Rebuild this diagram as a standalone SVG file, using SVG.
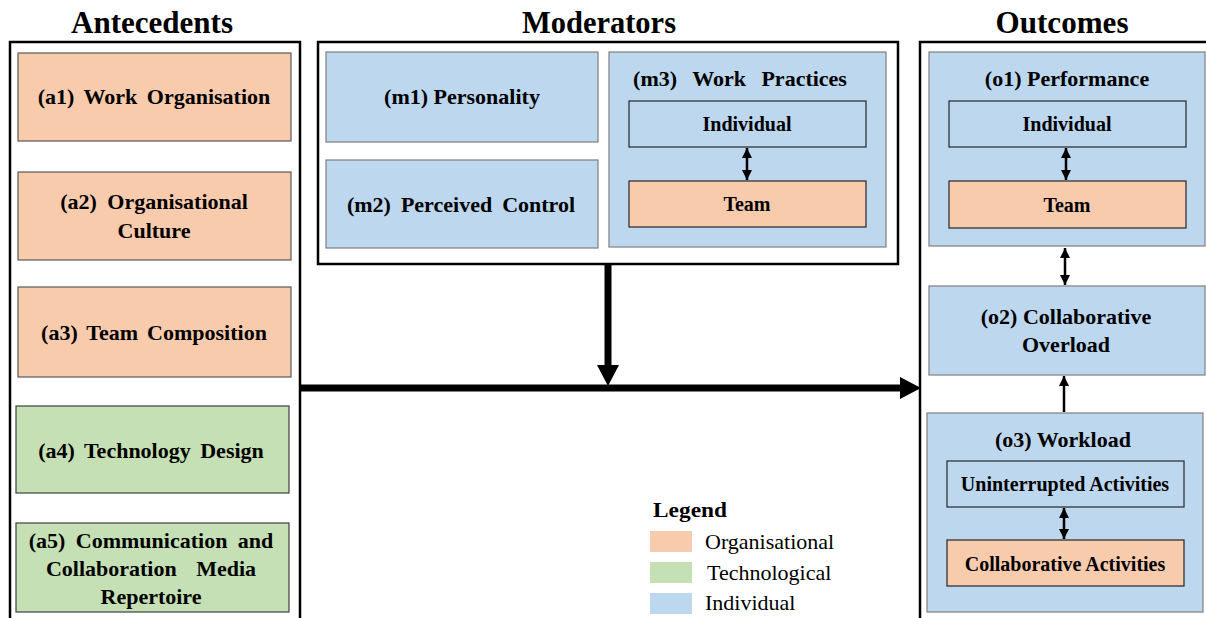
<svg xmlns="http://www.w3.org/2000/svg" width="1206" height="618" viewBox="0 0 1206 618">
<style>
.frame{fill:#fff;stroke:#000;stroke-width:2.5}
.org{fill:#F8CBAD;stroke:#595959;stroke-width:1.2}
.tec{fill:#C5E0B4;stroke:#404040;stroke-width:1.2}
.ind{fill:#BDD7EE;stroke:#7F7F7F;stroke-width:1.2}
.inn{fill:#BDD7EE;stroke:#262626;stroke-width:1.2}
.inno{fill:#F8CBAD;stroke:#262626;stroke-width:1.2}
.title{font-family:'Liberation Serif','Times New Roman',serif;font-weight:bold;font-size:31px;text-anchor:middle;fill:#000}
.lbl{font-family:'Liberation Serif','Times New Roman',serif;font-weight:bold;font-size:22px;text-anchor:middle;fill:#000}
.sub{font-family:'Liberation Serif','Times New Roman',serif;font-weight:bold;font-size:20px;text-anchor:middle;fill:#000}
.leg{font-family:'Liberation Serif','Times New Roman',serif;font-size:22px;fill:#000}
.thin{stroke:#000;stroke-width:2.5;fill:none}
</style>
<defs>
<marker id="sa" viewBox="0 0 10 10" refX="10" refY="5" markerWidth="4" markerHeight="4" orient="auto-start-reverse" markerUnits="strokeWidth">
<path d="M0,0 L10,5 L0,10 z" fill="#000"/>
</marker>
</defs>
<rect width="1206" height="618" fill="#fff"/>
<text class="title" x="152" y="33" textLength="162" lengthAdjust="spacingAndGlyphs">Antecedents</text>
<text class="title" x="599" y="33" textLength="154" lengthAdjust="spacingAndGlyphs">Moderators</text>
<text class="title" x="1062" y="33" textLength="133" lengthAdjust="spacingAndGlyphs">Outcomes</text>
<g id="antecedents">
<rect class="frame" x="10" y="42" width="290" height="600"/>
</g>
<g id="moderators">
<rect class="frame" x="318" y="42" width="580" height="222"/>
</g>
<g id="outcomes">
<rect class="frame" x="920" y="42" width="300" height="600"/>
</g>
<g id="a1"><rect class="org" x="18" y="53" width="273" height="88"/><text class="lbl" x="154" y="104" word-spacing="4">(a1) Work Organisation</text></g>
<g id="a2"><rect class="org" x="18" y="172" width="273" height="88"/><text class="lbl" x="154" y="209" word-spacing="5">(a2) Organisational</text><text class="lbl" x="154" y="238">Culture</text></g>
<g id="a3"><rect class="org" x="18" y="287" width="273" height="90"/><text class="lbl" x="154" y="340" word-spacing="3.5">(a3) Team Composition</text></g>
<g id="a4"><rect class="tec" x="16" y="406" width="273" height="87"/><text class="lbl" x="151" y="458" word-spacing="4">(a4) Technology Design</text></g>
<g id="a5"><rect class="tec" x="16" y="523" width="273" height="89"/><text class="lbl" x="151" y="548" word-spacing="5">(a5) Communication and</text><text class="lbl" x="151" y="576" word-spacing="14">Collaboration Media</text><text class="lbl" x="151" y="604">Repertoire</text></g>
<g id="m1"><rect class="ind" x="326" y="52" width="272" height="90"/><text class="lbl" x="462" y="104">(m1) Personality</text></g>
<g id="m2"><rect class="ind" x="326" y="160" width="272" height="88"/><text class="lbl" x="461" y="212" word-spacing="4.5">(m2) Perceived Control</text></g>
<g id="m3"><rect class="ind" x="609" y="52" width="277" height="195"/><text class="lbl" x="740" y="86" word-spacing="10">(m3) Work Practices</text>
<rect class="inn" x="629" y="101" width="237" height="46"/><text class="sub" x="747" y="131">Individual</text>
<rect class="inno" x="629" y="181" width="237" height="46"/><text class="sub" x="747" y="211">Team</text></g>
<g id="o1"><rect class="ind" x="929" y="52" width="276" height="194"/><text class="lbl" x="1067" y="86">(o1) Performance</text>
<rect class="inn" x="949" y="101" width="237" height="46"/><text class="sub" x="1067" y="131">Individual</text>
<rect class="inno" x="949" y="181" width="237" height="47"/><text class="sub" x="1067" y="212">Team</text></g>
<g id="o2"><rect class="ind" x="929" y="286" width="276" height="89"/><text class="lbl" x="1066" y="324">(o2) Collaborative</text><text class="lbl" x="1066" y="352">Overload</text></g>
<g id="o3"><rect class="ind" x="927" y="413" width="276" height="199"/><text class="lbl" x="1063" y="447">(o3) Workload</text>
<rect class="inn" x="947" y="461" width="237" height="46"/><text class="sub" x="1065" y="491">Uninterrupted Activities</text>
<rect class="inno" x="947" y="540" width="237" height="46"/><text class="sub" x="1065" y="571">Collaborative Activities</text></g>
<g id="connectors">
<line class="thin" x1="747" y1="148" x2="747" y2="180" marker-start="url(#sa)" marker-end="url(#sa)"/>
<line class="thin" x1="1066" y1="148" x2="1066" y2="180" marker-start="url(#sa)" marker-end="url(#sa)"/>
<line class="thin" x1="1065" y1="248" x2="1065" y2="285" marker-start="url(#sa)" marker-end="url(#sa)"/>
<line class="thin" x1="1064" y1="412" x2="1064" y2="376" marker-end="url(#sa)"/>
<line class="thin" x1="1064" y1="508" x2="1064" y2="539" marker-start="url(#sa)" marker-end="url(#sa)"/>
<line x1="301" y1="388" x2="902" y2="388" stroke="#000" stroke-width="7"/>
<path d="M900,377 L921,388 L900,399 z" fill="#000"/>
<line x1="608" y1="265" x2="608" y2="367" stroke="#000" stroke-width="7"/>
<path d="M597,365 L619,365 L608,386 z" fill="#000"/>
</g>
<g id="legend">
<text class="leg" x="653" y="517" font-weight="bold" textLength="74" lengthAdjust="spacingAndGlyphs">Legend</text>
<rect x="650" y="531" width="42" height="21" fill="#F8CBAD"/>
<rect x="650" y="562" width="42" height="21" fill="#C5E0B4"/>
<rect x="650" y="593" width="42" height="21" fill="#BDD7EE"/>
<text class="leg" x="705" y="549">Organisational</text>
<text class="leg" x="707" y="580">Technological</text>
<text class="leg" x="705" y="610">Individual</text>
</g>
</svg>
